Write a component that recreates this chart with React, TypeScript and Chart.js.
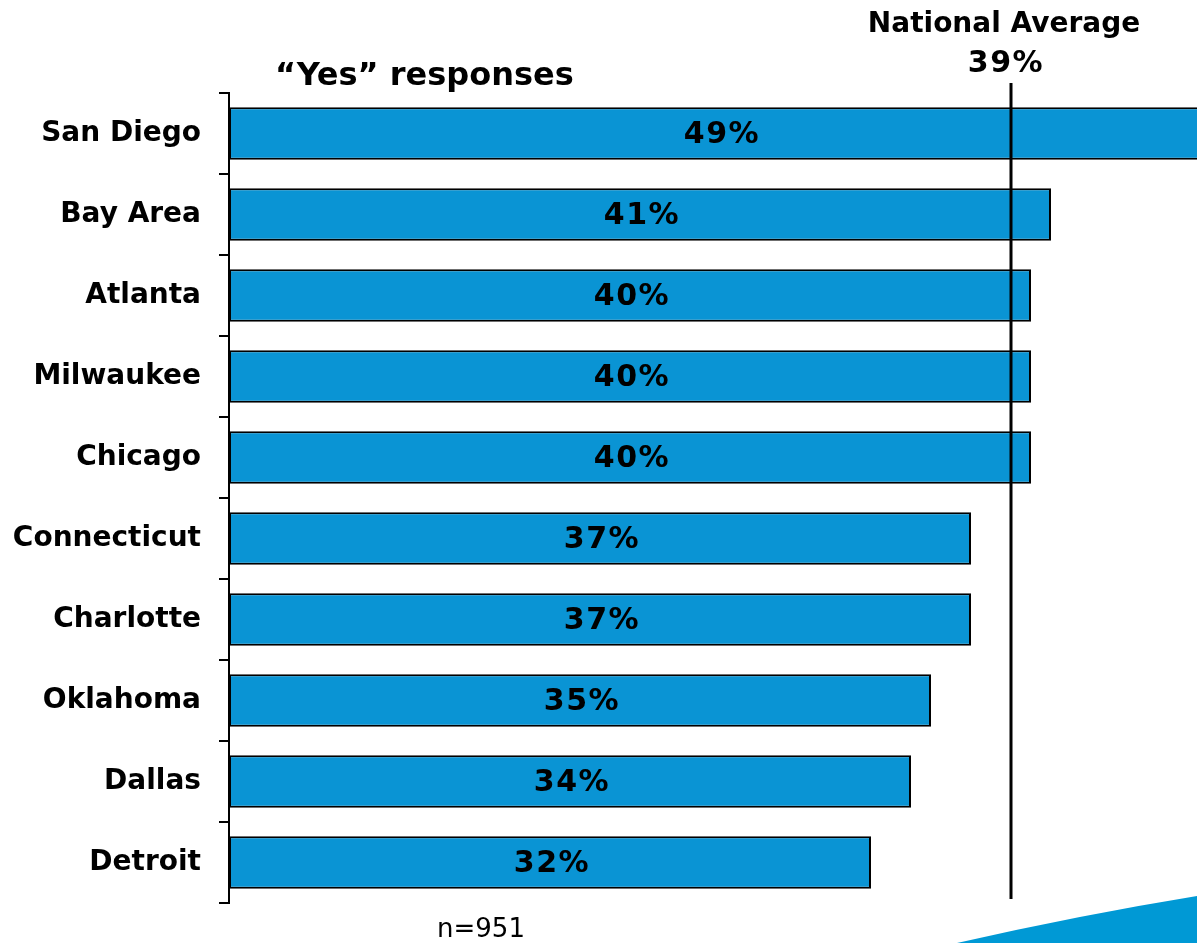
import React, { useEffect, useRef } from "react";
import { Chart, registerables } from "chart.js";

Chart.register(...registerables);

const categories = ["San Diego", "Bay Area", "Atlanta", "Milwaukee", "Chicago", "Connecticut", "Charlotte", "Oklahoma", "Dallas", "Detroit"];
const values = [49, 41, 40, 40, 40, 37, 37, 35, 34, 32];
const nationalAverage = 39;
const headerText = "\u201cYes\u201d responses";
const avgLabel = "National Average";
const sampleText = "n=951";

const FONT = "'DejaVu Sans', sans-serif";

const overlay = {
  id: "overlay",
  afterDatasetsDraw(chart: any) {
    const { ctx, scales } = chart;
    const x = scales.x;
    const meta = chart.getDatasetMeta(0);
    ctx.save();
    ctx.fillStyle = "#000";
    ctx.textBaseline = "middle";
    // bar value labels
    ctx.font = `bold 30px ${FONT}`;
    ctx.textAlign = "center";
    (ctx as any).letterSpacing = "1.5px";
    meta.data.forEach((bar: any, i: number) => {
      const x0 = x.getPixelForValue(0);
      const x1 = x.getPixelForValue(values[i]);
      ctx.fillText(values[i] + "%", (x0 + x1) / 2 + 1, bar.y + 2);
    });
    (ctx as any).letterSpacing = "0px";
    // national average line
    const ax = x.getPixelForValue(nationalAverage);
    ctx.strokeStyle = "#000";
    ctx.lineWidth = 3;
    ctx.beginPath();
    ctx.moveTo(ax, 83);
    ctx.lineTo(ax, 899);
    ctx.stroke();
    ctx.font = `bold 28px ${FONT}`;
    ctx.fillText(avgLabel, ax - 7, 25);
    ctx.font = `bold 30px ${FONT}`;
    (ctx as any).letterSpacing = "1.5px";
    ctx.fillText(nationalAverage + "%", ax - 5, 64);
    (ctx as any).letterSpacing = "0px";
    // header
    ctx.font = `bold 32px ${FONT}`;
    ctx.textAlign = "left";
    ctx.fillText(headerText, 275, 77);
    // category labels
    ctx.font = `bold 28px ${FONT}`;
    ctx.textAlign = "right";
    const y = scales.y;
    categories.forEach((c, i) => {
      ctx.fillText(c, 201, y.getPixelForValue(i));
    });
    // sample size
    ctx.font = `26px ${FONT}`;
    ctx.textAlign = "center";
    ctx.fillText(sampleText, 481, 930);
    // swoosh
    ctx.fillStyle = "#0099D5";
    ctx.beginPath();
    ctx.moveTo(957, 943);
    ctx.quadraticCurveTo(1080, 915, 1197, 896);
    ctx.lineTo(1197, 943);
    ctx.closePath();
    ctx.fill();
    ctx.restore();
  },
};

export default function App() {
  const ref = useRef<HTMLCanvasElement>(null);
  useEffect(() => {
    const chart = new Chart(ref.current!, {
      type: "bar",
      data: {
        labels: categories,
        datasets: [
          {
            data: values,
            base: -0.1,
            backgroundColor: "#0A94D4",
            borderColor: "#000",
            borderWidth: 2,
            borderSkipped: false,
            barPercentage: 0.65,
            categoryPercentage: 1,
          },
        ],
      },
      options: {
        indexAxis: "y",
        animation: false,
        responsive: false,
        maintainAspectRatio: false,
        layout: { padding: { top: 93, bottom: 40, left: 0, right: 0 } },
        plugins: { legend: { display: false }, tooltip: { enabled: false } },
        scales: {
          x: { display: false, min: -0.1, max: 48.3 },
          y: {
            afterFit(scale: any) {
              scale.width = 229;
            },
            border: { display: true, color: "#000", width: 2 },
            grid: { drawOnChartArea: false, tickLength: 10, color: "#000", lineWidth: 2, offset: true },
            ticks: {
              color: "rgba(0,0,0,0)",
              padding: 18,
              font: { family: FONT, size: 28, weight: "bold" },
            },
          },
        },
      },
      plugins: [overlay],
    });
    return () => chart.destroy();
  }, []);
  return (
    <div style={{ position: "fixed", left: 0, top: 0, width: 1197, height: 943, background: "#fff" }}>
      <canvas ref={ref} width={1197} height={943} style={{ display: "block" }} />
    </div>
  );
}
